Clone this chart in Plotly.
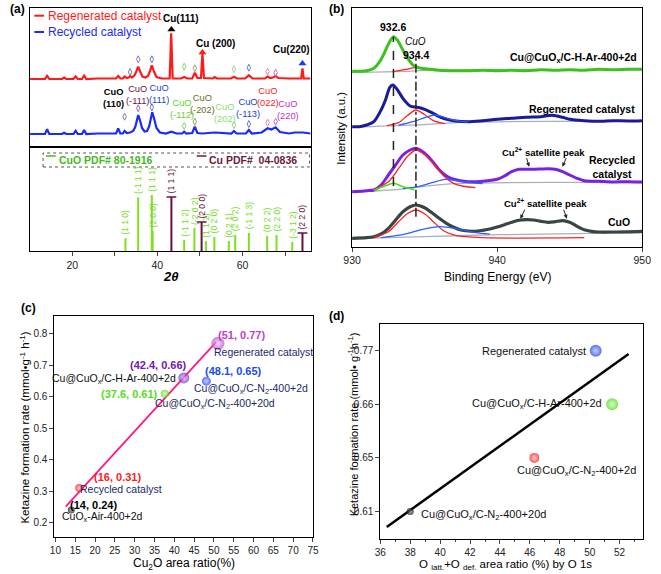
import plotly.graph_objects as go

W, H = 661, 574
FONT = "Arial, Liberation Sans, sans-serif"

# ---------------- (a) XRD data ----------------
xrd_red_2theta = [10, 13.6, 14.1, 14.6, 17.6, 18.1, 18.6, 20.3, 20.8, 21.3, 22.3, 22.8, 23.3, 26.0,
                  30.3, 30.8, 31.3, 31.9, 32.3, 32.8, 33.3, 33.6, 34.0, 34.6, 35.0, 35.5, 36.0, 36.5,
                  37.2, 37.8, 38.2, 38.7, 39.2, 39.8, 41.0, 42.9, 43.25, 43.6, 45.6, 46.3, 47.0, 48.2,
                  48.8, 49.4, 50.25, 50.6, 50.95, 53.0, 53.5, 54.0, 57.3, 58.0, 58.7, 60.6, 61.5, 62.4,
                  65.3, 65.9, 66.5, 67.2, 67.8, 68.4, 71.0, 73.8, 74.1, 74.4, 76.0]
xrd_red_int = [68, 68, 71, 68, 68, 69.5, 68, 68, 70.5, 68, 68, 71.5, 68, 68.5,
               68.5, 71, 68.5, 68.5, 70.5, 69, 69.5, 71, 69.5, 71.5, 75, 80.3, 75, 70.5,
               69.5, 71, 75, 81.7, 75.5, 70, 68.5, 68.5, 113.7, 68.5, 68.5, 70, 68.5, 68.5,
               74.3, 69, 69, 93.7, 69, 68.5, 70, 68.5, 68.5, 70.3, 68.5, 68.5, 71.7, 68.5,
               68.5, 70.5, 69, 69.5, 71, 69, 68.5, 68.5, 78.7, 68.5, 68.5]
xrd_blue_2theta = [10, 13.6, 14.1, 14.6, 17.6, 18.1, 18.6, 20.3, 20.8, 21.3, 22.3, 22.8, 23.3, 26.0,
                   30.3, 30.8, 31.3, 31.9, 32.3, 32.8, 33.6, 34.3, 34.8, 35.2, 35.5, 35.9, 36.4, 37.0,
                   37.6, 38.1, 38.5, 38.8, 39.2, 39.8, 40.6, 42.0, 43.3, 44.5, 45.8, 46.3, 46.8, 48.2,
                   48.8, 49.4, 50.5, 53.5, 57.4, 58.0, 58.6, 60.8, 61.5, 62.2, 64.5, 65.9, 66.8, 67.8,
                   68.8, 71.0, 72.3, 74.2, 76.0]
xrd_blue_int = [13, 13, 17.7, 13, 13, 14.3, 13, 13, 16.3, 13, 13, 17, 13, 13.5,
                13.5, 18.7, 13.5, 13.5, 16, 14, 14.5, 16, 20, 27, 32, 27, 19, 15.5,
                16, 21, 30, 34.7, 29, 19, 14.5, 13.5, 15.3, 13.5, 13.5, 15.3, 13.5, 14,
                20.3, 14, 13.5, 14.5, 13.5, 16, 13.5, 13.5, 17, 13.5, 14.5, 18.7, 17.5, 19.7,
                15, 13.5, 14.5, 14.5, 13.5]

red_icon_2theta = [33.6, 35.5, 38.7, 46.3, 48.8, 58.0, 61.5, 65.9, 67.8]
red_icon_int = [75, 87.7, 87.7, 80.3, 78.7, 77.7, 79.3, 75.3, 74.3]
blue_icon_2theta = [32.3, 35.5, 38.7, 46.3, 48.8, 58.0, 61.5, 65.9, 67.8]
blue_icon_int = [30.3, 38.7, 39.7, 21, 25.3, 22, 23, 24.3, 25.3]
icon_colors = ["#7080a0", "#a868c8", "#6078c8", "#88d860", "#98a468", "#98d888", "#6078c8", "#e888b0", "#c868c8"]

cu_mark_2theta = [43.3, 50.6, 74.1]
cu_mark_int = [117.5, 94.5, 83.5]
cu_mark_colors = ["#000000", "#ff1a1a", "#1a3aff"]
cu_peak_labels = ["Cu(111)", "Cu (200)", "Cu(220)"]

cuo_label_text = ["CuO<br>(110)", "CuO<br>(-111)", "CuO<br>(111)", "CuO<br>(-112)", "CuO<br>(-202)",
                  "CuO<br>(202)", "CuO<br>(-113)", "CuO<br>(022)", "CuO<br>(220)"]
cuo_label_colors = ["#000000", "#6b1540", "#2040e0", "#5ed51e", "#6e6e20", "#88e070", "#2040e0", "#ff1a1a", "#c030c0"]

cuo_ref_2theta = [32.5, 35.5, 38.7, 38.9, 46.3, 48.7, 51.4, 53.4, 56.8, 58.3, 61.5, 65.8, 68.0, 71.7]
cuo_ref_int = [12.7, 53.7, 56, 20, 11, 23, 10, 14, 10, 16, 18, 15, 16, 9]
cuo_ref_hkl = ["(1 1 0)", "(-1 1 1)", "(1 1 1)", "(2 0 0)", "(-1 1 2)", "(-2 0 2)", "(1 1 2)",
               "(0 2 0)", "(0 2 1)", "(2 0 2)", "(-1 1 3)", "(0 2 2)", "(2 2 0)", "(-3 1 2)"]
cu_ref_2theta = [43.3, 50.4, 74.1]
cu_ref_int = [54, 29, 18]
cu_ref_hkl = ["(1 1 1)", "(2 0 0)", "(2 2 0)"]
xrd_ticks = [20, 40, 60]

# ---------------- (b) XPS data ----------------
ar_ev = [930, 930.5, 931, 931.5, 931.9, 932.2, 932.55, 932.85, 933.15, 933.45, 933.85, 934.25, 934.75,
         935.3, 936, 937, 938, 939, 940, 941, 942, 943, 944, 945, 946, 947, 948, 949, 950]
ar_int = [175.5, 175.5, 176, 178.4, 185, 193, 204, 210, 206, 198, 188, 181, 178.5,
          177.5, 176.5, 176, 176, 176.5, 176, 176.5, 176, 177, 176.5, 177, 176.5, 177.5, 177, 177.5, 177.5]
regen_ev = [930, 930.5, 931, 931.5, 932, 932.3, 932.6, 932.8, 933.1, 933.5, 934, 934.5, 935, 935.5,
            936, 936.5, 937, 938, 939, 940, 941, 942, 943, 943.8, 944.5, 945, 946, 947, 948, 949, 950]
regen_int = [120, 120, 121.7, 125, 136.7, 146.7, 159.4, 161.7, 157.4, 148.4, 140.7, 139.4, 137.4, 134,
             130, 127.4, 126, 125, 126, 127.4, 128.4, 129.4, 130, 131.4, 129.4, 127.4, 126, 125.4, 126, 125.7, 126]
rec_ev = [930, 931, 931.5, 932, 932.5, 933, 933.5, 934, 934.4, 935, 935.5, 936, 936.5, 937, 938, 939,
          940, 940.5, 941, 941.5, 942, 942.5, 943, 943.5, 944, 944.5, 945, 945.5, 946, 947, 948, 949, 950]
rec_int = [55, 56, 56.7, 61.7, 71.7, 81.7, 91.7, 96.7, 98.4, 93.4, 86, 77, 70.7, 67.4, 65, 65.4,
           67.4, 70.7, 75, 77.4, 77.4, 77.4, 77.7, 78, 77.4, 75, 71.7, 68.4, 66, 65.4, 64.7, 65, 64.7]
cuo_ev = [930, 931, 931.5, 932, 932.5, 933, 933.5, 934, 934.4, 935, 935.5, 936, 936.5, 937, 937.5, 938,
          938.5, 939, 939.5, 940, 940.5, 941, 941.5, 942, 942.5, 943, 943.5, 944, 944.5, 945, 945.5,
          946, 946.5, 947, 948, 950]
cuo_int = [8.4, 9, 10, 12.7, 18.4, 26.7, 35, 40, 41.7, 39, 34, 28.4, 23.4, 19.4, 16.7, 15.7,
           15.4, 16.4, 17.7, 19.7, 22, 24.4, 26.4, 27, 26.7, 25.4, 24.4, 25, 26, 24.4, 20.4,
           17, 15.4, 14.7, 14.7, 15.4]

bg_ar_ev, bg_ar_int = [930, 933, 936, 950], [174, 175, 176.5, 177]
bg_regen_ev, bg_regen_int = [930, 934, 938, 950], [119.5, 121.5, 124.5, 125.5]
bg_rec_ev, bg_rec_int = [930, 933, 937, 950], [54.5, 57, 63, 64]
bg_cuo_ev, bg_cuo_int = [930, 935, 940, 950], [8, 10, 12, 14]

fit_red_ar_ev, fit_red_ar_int = [932.8, 933.6, 934.4, 935.2, 936], [175, 177, 179, 177.5, 176.5]
fit_red_regen_ev = [932.4, 933.2, 933.8, 934.4, 935.0, 935.6, 936.4]
fit_red_regen_int = [121, 124, 131, 136.7, 132, 126, 123]
fit_red_rec_ev = [931.5, 932.5, 933.2, 933.8, 934.4, 935.0, 935.6, 936.3, 937.2, 938.5]
fit_red_rec_int = [57, 65, 78, 90, 96.7, 92, 83, 71, 62, 59]
fit_red_cuo_ev = [931.5, 932.5, 933.2, 933.8, 934.4, 935.0, 935.6, 936.3, 937.2, 939, 946]
fit_red_cuo_int = [9.5, 15, 25, 33, 36.7, 33, 25, 16, 11, 9, 9]
fit_blue_regen_ev = [933.2, 934.2, 935.0, 935.7, 936.4, 937.2, 938]
fit_blue_regen_int = [121.5, 125, 129, 131.7, 129, 126, 124.5]
fit_blue_rec_ev = [933.5, 934.5, 935.5, 936.4, 937.2, 938.2, 939]
fit_blue_rec_int = [58, 60, 64, 67.4, 66, 64, 63]
fit_blue_cuo_ev = [932, 933.5, 934.8, 936, 937.2, 938.5, 939.5]
fit_blue_cuo_int = [9, 12, 17, 20, 18, 14, 12.5]
fit_green_rec_ev = [931.5, 932.3, 932.85, 933.5, 934.3]
fit_green_rec_int = [56.5, 61, 63.4, 60, 57]

ref_line_ev = [932.85, 934.4]
ref_line_top = [210, 190.7]
ref_line_bottom = [60.7, 30]
ref_line_labels = ["932.6", "934.4"]

# ---------------- (c) data ----------------
c_cu2o_ratio = [14, 16, 37.6, 42.4, 48.1, 51]
c_rate = [0.24, 0.31, 0.61, 0.66, 0.65, 0.77]
c_names = ["CuO<sub>x</sub>-Air-400+2d", "Recycled catalyst", "Cu@CuO<sub>x</sub>/C-N<sub>2</sub>-400+20d",
           "Cu@CuO<sub>x</sub>/C-H-Ar-400+2d", "Cu@CuO<sub>x</sub>/C-N<sub>2</sub>-400+2d", "Regenerated catalyst"]
c_colors = ["#111111", "#ee1818", "#55d818", "#7a28c8", "#1a38e8", "#b848d0"]
c_glow = ["#888888", "#ffb0b0", "#c8ffa0", "#d8b8ff", "#a8b8ff", "#f0c8ff"]
c_label_colors = ["#000000", "#ff2020", "#55dd22", "#7020b0", "#1a4af0", "#c040d0"]
c_name_colors = ["#111111", "#1a2a6a", "#1a2a5a", "#111111", "#1a2a6a", "#1a2a6a"]
c_fit_x = [12.6, 50.6]
c_fit_y = [0.251, 0.775]

# ---------------- (d) data ----------------
d_ratio = [38, 46.3, 50.4, 51.5]
d_rate = [0.61, 0.65, 0.77, 0.66]
d_names = ["Cu@CuO<sub>x</sub>/C-N<sub>2</sub>-400+20d", "Cu@CuO<sub>x</sub>/C-N<sub>2</sub>-400+2d",
           "Regenerated catalyst", "Cu@CuO<sub>x</sub>/C-H-Ar-400+2d"]
d_colors = ["#111111", "#ee1818", "#1a38e0", "#44d810"]
d_glow = ["#888888", "#ffb0b0", "#a8b8ff", "#c8ffa0"]
d_ytick_labels = ["0.61", "0.65", "0.66", "0.77"]
d_fit_x = [36.43, 52.6]
d_fit_pos = [-0.29, 2.94]

fig = go.Figure()

def px_x(p):
    return p / W

def px_y(p):
    return 1 - p / H

# ---- (a) top traces
fig.add_trace(go.Scatter(x=xrd_red_2theta, y=xrd_red_int, mode="lines", line=dict(color="#ff1a1a", width=2.2),
                         xaxis="x", yaxis="y", showlegend=False, hoverinfo="skip"))
fig.add_trace(go.Scatter(x=xrd_blue_2theta, y=xrd_blue_int, mode="lines", line=dict(color="#1a2aff", width=2.2),
                         xaxis="x", yaxis="y", showlegend=False, hoverinfo="skip"))
for xs, ys in ((red_icon_2theta, red_icon_int), (blue_icon_2theta, blue_icon_int)):
    fig.add_trace(go.Scatter(x=xs, y=ys, mode="markers", xaxis="x", yaxis="y", showlegend=False,
                             marker=dict(symbol="diamond-tall-open", size=5, color=icon_colors, line=dict(width=1)),
                             hoverinfo="skip"))
fig.add_trace(go.Scatter(x=cu_mark_2theta, y=cu_mark_int, mode="markers", xaxis="x", yaxis="y", showlegend=False,
                         marker=dict(symbol="triangle-up", size=7, color=cu_mark_colors), hoverinfo="skip"))

# ---- (a) bottom sticks
def sticks(xs, ys):
    sx, sy = [], []
    for a, b in zip(xs, ys):
        sx += [a, a, None]
        sy += [0, b, None]
    return sx, sy

sx, sy = sticks(cuo_ref_2theta, cuo_ref_int)
fig.add_trace(go.Scatter(x=sx, y=sy, mode="lines", line=dict(color="#7ee01e", width=2), xaxis="x2", yaxis="y2",
                         showlegend=False, hoverinfo="skip"))
sx, sy = sticks(cu_ref_2theta, cu_ref_int)
fig.add_trace(go.Scatter(x=sx, y=sy, mode="lines", line=dict(color="#6a1040", width=2), xaxis="x2", yaxis="y2",
                         showlegend=False, hoverinfo="skip"))
fig.add_trace(go.Scatter(x=cu_ref_2theta, y=cu_ref_int, mode="markers", xaxis="x2", yaxis="y2", showlegend=False,
                         marker=dict(symbol="line-ew", size=7, line=dict(color="#6a1040", width=1.5)), hoverinfo="skip"))

# ---- (b) traces
def line_tr(x, y, color, width, ax="x3", ay="y3", dash=None):
    return go.Scatter(x=x, y=y, mode="lines", line=dict(color=color, width=width, shape="spline", smoothing=0.8, dash=dash),
                      xaxis=ax, yaxis=ay, showlegend=False, hoverinfo="skip")

for x, y in ((bg_ar_ev, bg_ar_int), (bg_regen_ev, bg_regen_int), (bg_rec_ev, bg_rec_int), (bg_cuo_ev, bg_cuo_int)):
    fig.add_trace(line_tr(x, y, "#a8b0b8", 1.3))
fig.add_trace(line_tr(fit_red_ar_ev, fit_red_ar_int, "#ff2020", 1.3))
fig.add_trace(line_tr(ar_ev, ar_int, "#3cc21c", 3))
fig.add_trace(line_tr(regen_ev, regen_int, "#1a1a9a", 3))
fig.add_trace(line_tr(fit_red_regen_ev, fit_red_regen_int, "#ff2020", 1.3))
fig.add_trace(line_tr(fit_blue_regen_ev, fit_blue_regen_int, "#2a60ff", 1.3))
fig.add_trace(line_tr(rec_ev, rec_int, "#7a22e0", 3))
fig.add_trace(line_tr(fit_red_rec_ev, fit_red_rec_int, "#ff2020", 1.3))
fig.add_trace(line_tr(fit_blue_rec_ev, fit_blue_rec_int, "#2a60ff", 1.3))
fig.add_trace(line_tr(fit_green_rec_ev, fit_green_rec_int, "#44dd22", 1.5))
fig.add_trace(line_tr(cuo_ev, cuo_int, "#3a4444", 3.2))
fig.add_trace(line_tr(fit_red_cuo_ev, fit_red_cuo_int, "#ff2020", 1.3))
fig.add_trace(line_tr(fit_blue_cuo_ev, fit_blue_cuo_int, "#2a60ff", 1.3))
for i, dash in enumerate(["dash", "dashdot"]):
    fig.add_trace(go.Scatter(x=[ref_line_ev[i], ref_line_ev[i]], y=[ref_line_bottom[i], ref_line_top[i]], mode="lines",
                             line=dict(color="#222222", width=1.5, dash=dash), xaxis="x3", yaxis="y3",
                             showlegend=False, hoverinfo="skip"))

# ---- (c) traces
fig.add_trace(go.Scatter(x=c_fit_x, y=c_fit_y, mode="lines", line=dict(color="#ff1a80", width=1.8),
                         xaxis="x4", yaxis="y4", showlegend=False, hoverinfo="skip"))
c_sizes = [7, 8, 8, 11, 9, 13]
fig.add_trace(go.Scatter(x=c_cu2o_ratio, y=c_rate, mode="markers", xaxis="x4", yaxis="y4", showlegend=False,
                         marker=dict(size=c_sizes, color=c_colors, gradient=dict(type="radial", color=c_glow),
                                     line=dict(width=0)), hoverinfo="skip"))

# ---- (d) traces
d_pos = [d_ytick_labels.index(f"{v:.2f}") for v in d_rate]
fig.add_trace(go.Scatter(x=d_fit_x, y=d_fit_pos, mode="lines", line=dict(color="#000000", width=2.5),
                         xaxis="x5", yaxis="y5", showlegend=False, hoverinfo="skip"))
d_sizes = [7, 10, 12, 12]
fig.add_trace(go.Scatter(x=d_ratio, y=d_pos, mode="markers", xaxis="x5", yaxis="y5", showlegend=False,
                         marker=dict(size=d_sizes, color=d_colors, gradient=dict(type="radial", color=d_glow),
                                     line=dict(width=0)), hoverinfo="skip"))

ann = []
shapes = []

def A(text, x, y, xref="paper", yref="paper", size=10, color="#000", bold=False, italic=False, xanchor="center",
      yanchor="middle", angle=0, xshift=0, yshift=0):
    t = text
    if bold:
        t = f"<b>{t}</b>"
    if italic:
        t = f"<i>{t}</i>"
    ann.append(dict(text=t, x=x, y=y, xref=xref, yref=yref, showarrow=False, xanchor=xanchor, yanchor=yanchor,
                    textangle=angle, xshift=xshift, yshift=yshift,
                    font=dict(family=FONT, size=size, color=color)))

# panel labels
A("(a)", px_x(9), px_y(9), size=12, bold=True)
A("(b)", px_x(337), px_y(9), size=12, bold=True)
A("(c)", px_x(20), px_y(308), size=12, bold=True)
A("(d)", px_x(337), px_y(316), size=12, bold=True)

# (a) legend
for yy, col, txt in ((15.7, "#ff1a1a", "Regenerated catalyst"), (32, "#1a2aff", "Recycled catalyst")):
    shapes.append(dict(type="line", xref="paper", yref="paper", x0=px_x(26), x1=px_x(36), y0=px_y(yy), y1=px_y(yy),
                       line=dict(color=col, width=2)))
    A(txt, px_x(38.5), px_y(yy), size=12, color=col, xanchor="left")

# (a) peak labels
cu_label_pos = [(45.6, 129), (53.6, 104), (71.6, 97.7)]
for t, (xx, yy) in zip(cu_peak_labels, cu_label_pos):
    A(t, xx, yy, "x", "y", size=10, bold=True)
cuo_label_pos = [(29.6, 49), (35.3, 52.3), (40.3, 53.3), (45.8, 38.2), (50.6, 43.2), (55.8, 34.2), (61.4, 39.5),
                 (66.0, 50.3), (70.7, 37.3)]
for i, (t, (xx, yy)) in enumerate(zip(cuo_label_text, cuo_label_pos)):
    A(t, xx, yy, "x", "y", size=9.3, color=cuo_label_colors[i], bold=(i == 0))

# (a) bottom legend
shapes.append(dict(type="rect", xref="paper", yref="paper", x0=px_x(35), x1=px_x(309), y0=px_y(167), y1=px_y(153),
                   line=dict(color="#555", width=1, dash="dot")))
for x0, col, txt in ((38, "#44b81e", "CuO PDF# 80-1916"), (193, "#6a1a40", "Cu PDF#  04-0836")):
    shapes.append(dict(type="line", xref="paper", yref="paper", x0=px_x(x0), x1=px_x(x0 + 10), y0=px_y(156),
                       y1=px_y(156), line=dict(color=col, width=1.5)))
    A(txt, px_x(x0 + 11), px_y(159.5), size=10.5, color=col, bold=True, xanchor="left")

for xx, yy, t in zip(cuo_ref_2theta, cuo_ref_int, cuo_ref_hkl):
    A(t, xx, yy + 1.5, "x2", "y2", size=8.5, color="#72dc1a", yanchor="bottom", angle=-90)
for xx, yy, t in zip(cu_ref_2theta, cu_ref_int, cu_ref_hkl):
    A(t, xx, yy + 1.5, "x2", "y2", size=8.5, color="#6a1040", yanchor="bottom", angle=-90)

A("2θ", px_x(166), px_y(277), size=13, bold=True, italic=True)

# (b) annotations
A(ref_line_labels[0], 932.85, 220, "x3", "y3", size=10.5, bold=True)
A("CuO", 934.4, 205, "x3", "y3", size=10, italic=True)
A(ref_line_labels[1], 934.4, 192, "x3", "y3", size=10.5, bold=True)
A("Cu@CuO<sub>x</sub>/C-H-Ar-400+2d", px_x(648), px_y(58), size=10.5, bold=True, xanchor="right")
A("Regenerated catalyst", px_x(646), px_y(109), size=10.5, bold=True, xanchor="right")
A("Recycled<br>catalyst", px_x(646), px_y(167), size=10.5, bold=True, xanchor="right")
A("CuO", px_x(640), px_y(222), size=10.5, bold=True, xanchor="right")
A("Cu<sup>2+</sup> satellite peak", 943.2, 94.5, "x3", "y3", size=9.5, bold=True)
A("Cu<sup>2+</sup> satellite peak", 943.3, 43.5, "x3", "y3", size=9.5, bold=True)
for (hx, hy, tx, ty) in ((942.2, 80, 942.0, 90), (944.5, 80, 944.8, 90), (941.6, 28, 941.95, 38.5), (944.8, 28, 944.55, 38.5)):
    ann.append(dict(x=hx, y=hy, ax=tx, ay=ty, xref="x3", yref="y3", axref="x3", ayref="y3", showarrow=True,
                    arrowhead=2, arrowsize=0.8, arrowwidth=1, arrowcolor="#222", text=""))
A("Intensity (a.u.)", px_x(341), px_y(128), size=11.5, angle=-90)
A("Binding Energy (eV)", px_x(502), px_y(277), size=12)

# (c) annotations
c_coord_shift = [(22, 5), (38, 11), (-35, 0), (-25, 13), (27, 10), (24, 8)]
c_name_shift = [(31, -7), (42, -1), (50, -10), (-70, -1), (45, -8), (46, -9)]
for i in range(len(c_rate)):
    lab = f"({c_cu2o_ratio[i]:g}, {c_rate[i]:g})"
    A(lab, c_cu2o_ratio[i], c_rate[i], "x4", "y4", size=11, bold=True, color=c_label_colors[i],
      xshift=c_coord_shift[i][0], yshift=c_coord_shift[i][1])
    A(c_names[i], c_cu2o_ratio[i], c_rate[i], "x4", "y4", size=10.5, color=c_name_colors[i],
      xshift=c_name_shift[i][0], yshift=c_name_shift[i][1])
A("Ketazine formation rate (mmol•g<sup>-1</sup> h<sup>-1</sup>)", px_x(16), px_y(428), size=11.5, angle=-90)
A("Cu<sub>2</sub>O area ratio(%)", px_x(180), px_y(564), size=12)

# (d) annotations
d_label_shift = [(9, -4, "left"), (42, -13, "center"), (-8, 0, "right"), (-8, 0, "right")]
for i in range(len(d_ratio)):
    sx_, sy_, anc = d_label_shift[i]
    A(d_names[i], d_ratio[i], d_pos[i], "x5", "y5", size=11, color="#111", xshift=sx_, yshift=sy_, xanchor=anc)
A("Ketazine formation rate (mmol• g<sup>-1</sup>h<sup>-1</sup>)", px_x(354), px_y(424), size=11, angle=-90)
A("O <sub>latt.</sub>+O <sub>def.</sub> area ratio (%) by O 1s", px_x(510), px_y(565), size=11.5)

tickfont = dict(family=FONT, size=10, color="#222")

def axis(domain, rng, anchor, **kw):
    d = dict(domain=domain, range=rng, anchor=anchor, showgrid=False, zeroline=False, showline=True,
             linecolor="#000", linewidth=1, mirror=True, ticks="", showticklabels=False, tickfont=tickfont,
             fixedrange=True)
    d.update(kw)
    return d

fig.update_layout(
    width=W, height=H, margin=dict(l=0, r=0, t=0, b=0), paper_bgcolor="white", plot_bgcolor="white",
    font=dict(family=FONT),
    xaxis=axis([px_x(21.7), px_x(310)], [10.1, 76.0], "y"),
    yaxis=axis([px_y(147), px_y(8)], [0, 139], "x"),
    xaxis2=axis([px_x(21.7), px_x(310)], [10.1, 76.0], "y2", ticks="outside", ticklen=4, tickvals=xrd_ticks,
                showticklabels=True, tickfont=dict(family=FONT, size=10.5, color="#222"),
                minor=dict(tickvals=[10, 30, 50, 70], ticklen=4, ticks="outside")),
    yaxis2=axis([px_y(251), px_y(147)], [0, 104], "x2"),
    xaxis3=axis([px_x(352.7), px_x(651)], [930, 950], "y3", ticks="outside", ticklen=4, tickvals=[930, 940, 950],
                showticklabels=True, tickfont=dict(family=FONT, size=10.5, color="#222")),
    yaxis3=axis([px_y(246.7), px_y(8)], [0, 238.7], "x3"),
    xaxis4=axis([px_x(46.7), px_x(312.5)], [9.75, 75.0], "y4", ticks="outside", ticklen=4, dtick=5, tick0=10,
                showticklabels=True),
    yaxis4=axis([px_y(537.3), px_y(316)], [0.1536, 0.857], "x4", ticks="outside", ticklen=4, dtick=0.1, tick0=0.2,
                showticklabels=True, tickformat=".1f"),
    xaxis5=axis([px_x(381.7), px_x(651.7)], [36, 53.56], "y5", ticks="outside", ticklen=4, dtick=2, tick0=36,
                showticklabels=True, minor=dict(dtick=1, ticklen=2, ticks="outside")),
    yaxis5=axis([px_y(539.3), px_y(324)], [-0.52, 3.5], "x5", ticks="outside", ticklen=4, tickangle=0,
                tickvals=list(range(len(d_ytick_labels))), ticktext=d_ytick_labels, showticklabels=True),
    annotations=ann, shapes=shapes,
)

fig.write_html("out.html", config={"displayModeBar": False},
               post_script="document.body.style.margin='0';document.body.style.overflow='hidden';")
